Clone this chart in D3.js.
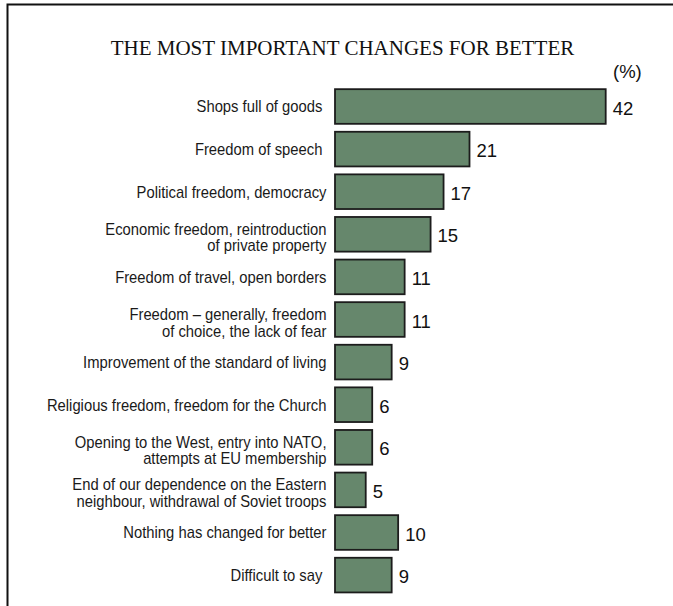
<!DOCTYPE html>
<html>
<head>
<meta charset="utf-8">
<script src="https://cdn.jsdelivr.net/npm/d3@7"></script>
<style>
  html, body { margin: 0; padding: 0; background: #fff; }
  svg { display: block; }
  text { white-space: pre; }
</style>
</head>
<body>
<svg id="chart" width="673" height="606"></svg>
<script>
// Answers, top to bottom; "\n" marks a line break in the label
const categories = [
  "Shops full of goods ",
  "Freedom of speech ",
  "Political freedom, democracy",
  "Economic freedom, reintroduction\nof private property",
  "Freedom of travel, open borders",
  "Freedom \u2013 generally, freedom\nof choice, the lack of fear",
  "Improvement of the standard of living",
  "Religious freedom, freedom for the Church",
  "Opening to the West, entry into NATO,\nattempts at EU membership",
  "End of our dependence on the Eastern\nneighbour, withdrawal of Soviet troops",
  "Nothing has changed for better",
  "Difficult to say "
];
const values = [42, 21, 17, 15, 11, 11, 9, 6, 6, 5, 10, 9];
const title = "THE MOST IMPORTANT CHANGES FOR BETTER";
const unitLabel = "(%)";

const svg = d3.select("#chart");

// Frame along the top and left edges
svg.append("path")
  .attr("d", "M7.5,606V4.5H673")
  .attr("fill", "none")
  .attr("stroke", "#111")
  .attr("stroke-width", 2);

svg.append("text")
  .attr("x", 342.5)
  .attr("y", 55)
  .attr("text-anchor", "middle")
  .attr("font-family", "'Liberation Serif', 'Times New Roman', serif")
  .attr("font-size", 21)
  .attr("fill", "#111")
  .text(title);

const x = d3.scaleLinear().domain([0, 42]).range([333.3, 605.7]);
const y = d3.scaleBand()
  .domain(categories)
  .range([85.2, 596.4])
  .paddingInner(0.144)
  .paddingOuter(0.072);

const sw = 1.8;
const inset = x(0) + 1.7;

const rows = svg.append("g").selectAll("g")
  .data(categories.map((c, i) => ({ c, v: values[i] })))
  .join("g");

rows.append("rect")
  .attr("x", inset)
  .attr("y", d => y(d.c) + sw / 2)
  .attr("width", d => x(d.v) - inset)
  .attr("height", y.bandwidth() - sw)
  .attr("fill", "#66876c")
  .attr("stroke", "#1c1c1c")
  .attr("stroke-width", sw);

rows.append("text")
  .attr("x", d => x(d.v) + 7)
  .attr("y", d => y(d.c) + y.bandwidth() / 2 + 8)
  .attr("font-family", "'Liberation Sans', Arial, sans-serif")
  .attr("font-size", 18.5)
  .attr("fill", "#111")
  .text(d => d.v);

// Category labels, slightly condensed, right-aligned before the bars
const labels = svg.append("g")
  .attr("transform", "translate(326.5,0) scale(0.925,1)")
  .attr("font-family", "'Liberation Sans', Arial, sans-serif")
  .attr("font-size", 16)
  .attr("fill", "#1a1a1a")
  .attr("text-anchor", "end");

categories.forEach(c => {
  const lines = c.split("\n");
  const mid = y(c) + y.bandwidth() / 2;
  const t = labels.append("text");
  lines.forEach((ln, i) => {
    t.append("tspan")
      .attr("x", 0)
      .attr("y", mid + 5.9 - (lines.length - 1) * 5.4 + i * 16.6)
      .text(ln);
  });
});

svg.append("text")
  .attr("x", 613)
  .attr("y", 78)
  .attr("font-family", "'Liberation Sans', Arial, sans-serif")
  .attr("font-size", 18.5)
  .attr("fill", "#111")
  .text(unitLabel);
</script>
</body>
</html>
